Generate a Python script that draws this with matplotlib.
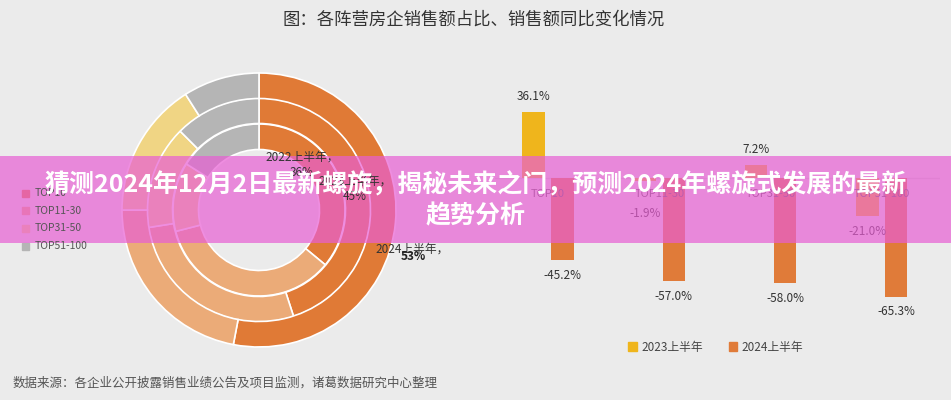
import matplotlib.pyplot as plt
from matplotlib.patches import Rectangle, Patch

plt.rcParams['font.family'] = ['Noto Sans CJK SC', 'DejaVu Sans']
plt.rcParams['axes.unicode_minus'] = False

# 数据
groups = ['TOP10', 'TOP11-30', 'TOP31-50', 'TOP51-100']
group_colors = ['#E07A36', '#EBAB78', '#F0D584', '#B5B5B5']
ring_2022 = [36, 35, 13, 16]
ring_2023 = [45, 27.5, 15, 12.5]
ring_2024 = [53, 22, 16, 9]
ring_labels = ['2022上半年，\n36%', '2023上半年，\n45%', '2024上半年，\n53%']

yoy_2023 = [36.1, -1.9, 7.2, -21.0]
yoy_2024 = [-45.2, -57.0, -58.0, -65.3]
series_names = ['2023上半年', '2024上半年']
bar_colors = ['#EFB51C', '#E07B39']

title = '图：各阵营房企销售额占比、销售额同比变化情况'
source = '数据来源：各企业公开披露销售业绩公告及项目监测，诸葛数据研究中心整理'
banner_1 = '猜测2024年12月2日最新螺旋，揭秘未来之门，预测2024年螺旋式发展的最新'
banner_2 = '趋势分析'

W, H = 951, 400
bg = '#EBEBEB'
fig = plt.figure(figsize=(W / 100, H / 100), dpi=100, facecolor=bg)


def px(x, y, w, h):
    # 像素坐标 -> 图坐标
    return [x / W, (H - y - h) / H, w / W, h / H]


# 标题 / 来源
fig.text(474 / W, 1 - 20 / H, title, ha='center', va='center', fontsize=12.5, color='#333333')
fig.text(13 / W, 1 - 383 / H, source, ha='left', va='center', fontsize=9, color='#555555')

# 1. 环形图
ax1 = fig.add_axes(px(259 - 140, 210 - 140, 280, 280))
radii = [86, 112, 137]
for r, vals in zip(radii, [ring_2022, ring_2023, ring_2024]):
    ax1.pie(vals, radius=r, startangle=90, counterclock=False, colors=group_colors,
            wedgeprops=dict(width=25.5, edgecolor='white', linewidth=1.2))
ax1.set_xlim(-140, 140)
ax1.set_ylim(-140, 140)
ax1.set_aspect('equal')
ax1.axis('off')

# 环标签
fig.text(302 / W, 1 - 165 / H, ring_labels[0], ha='center', va='center', fontsize=8.5,
         color='#333333', linespacing=1.3)
fig.text(355 / W, 1 - 189 / H, ring_labels[1], ha='center', va='center', fontsize=8.5,
         color='#333333', linespacing=1.3)
fig.text(412 / W, 1 - 249 / H, ring_labels[2].split('\n')[0], ha='center', va='center',
         fontsize=8.5, color='#333333')
fig.text(413 / W, 1 - 257 / H, ring_labels[2].split('\n')[1], ha='center', va='center',
         fontsize=8.5, color='#222222', fontweight='bold')

# 左侧图例
for i, (g, c) in enumerate(zip(groups, group_colors)):
    y = 193 + i * 17.7
    fig.add_artist(Rectangle((22 / W, 1 - (y + 3.5) / H), 7 / W, 7 / H, color=c,
                             transform=fig.transFigure))
    fig.text(35 / W, 1 - y / H, g, ha='left', va='center', fontsize=7.5, color='#555555')

# 2. 柱状图
ax2 = fig.add_axes(px(495, 80, 445, 240))
x = list(range(len(groups)))
w = 0.2
off = 0.13
b1 = ax2.bar([i - off for i in x], yoy_2023, w, color=bar_colors[0], label=series_names[0])
b2 = ax2.bar([i + off for i in x], yoy_2024, w, color=bar_colors[1], label=series_names[1])
ax2.axhline(0, color='#D3D3D3', lw=1, zorder=0)
ax2.set_xlim(-0.476, 3.522)
ax2.set_ylim(-78.2, 53.7)
ax2.axis('off')

for bars, vals in [(b1, yoy_2023), (b2, yoy_2024)]:
    for b, v in zip(bars, vals):
        cx = b.get_x() + b.get_width() / 2
        if v >= 0:
            ax2.annotate(f'{v:.1f}%', (cx, v), xytext=(0, 11), textcoords='offset points',
                         ha='center', va='center', fontsize=8.5, color='#333333')
        else:
            ax2.annotate(f'{v:.1f}%', (cx, min(v, -11)), xytext=(0, -11), textcoords='offset points',
                         ha='center', va='center', fontsize=8.5, color='#333333')

for i, g in enumerate(groups):
    ax2.annotate(g, (i, 0), xytext=(0, -11.5), textcoords='offset points',
                 ha='center', va='center', fontsize=8, color='#555555')

handles = [Patch(color=c, label=n) for c, n in zip(bar_colors, series_names)]
fig.legend(handles=handles, loc='center', bbox_to_anchor=(716 / W, 1 - 347 / H), ncol=2,
           frameon=False, fontsize=8.5, handlelength=0.7, handleheight=0.7,
           handletextpad=0.4, columnspacing=2.2, labelcolor='#444444')

# 3. 粉色横幅
fig.add_artist(Rectangle((0, 1 - 243 / H), 1, 87 / H, transform=fig.transFigure,
                         color=(0.91, 0.37, 0.83), alpha=0.7, lw=0))
fig.text(476 / W, 1 - 185 / H, banner_1, ha='center', va='center', fontsize=18,
         fontweight='bold', color='white')
fig.text(476 / W, 1 - 216 / H, banner_2, ha='center', va='center', fontsize=18,
         fontweight='bold', color='white')

plt.savefig('out.png', dpi=100, facecolor=bg)
